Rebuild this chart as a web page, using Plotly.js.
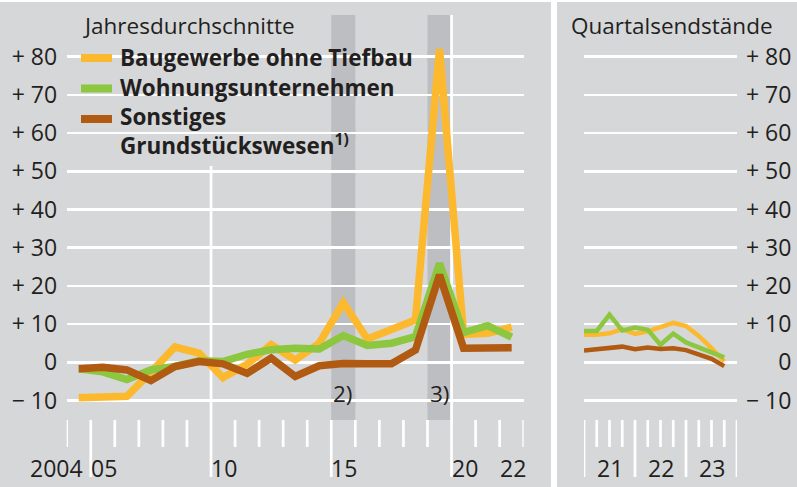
<!DOCTYPE html>
<html><head><meta charset="utf-8">
<script src="https://cdn.plot.ly/plotly-3.0.1.min.js"></script>
<style>html,body{margin:0;padding:0;background:#fff;}#chart{width:797px;height:487px;}</style>
</head><body><div id="chart"></div>
<script>
// ---------- data ----------
const years = [2004,2005,2006,2007,2008,2009,2010,2011,2012,2013,2014,2015,2016,2017,2018,2019,2020,2021,2022];
const baugewerbeAnnual = [-9.3,-8.9,-8.9,-2.6,4.0,2.4,-4.0,-0.5,4.6,0.6,5.0,15.6,6.1,8.6,11.1,82.0,7.3,7.6,9.2];
const wohnungAnnual    = [-1.7,-2.5,-4.5,-2.0,-1.1,0.4,0.2,2.1,3.3,3.7,3.5,7.0,4.4,5.0,6.7,25.9,7.8,9.6,6.6];
const sonstigesAnnual  = [-1.7,-1.3,-2.0,-4.8,-1.1,0.2,-0.4,-2.9,1.1,-3.7,-0.9,-0.3,-0.4,-0.4,3.2,22.9,3.7,3.8,3.8];

// quarter-end positions (2020 Q4 ... 2023 Q3) as decimal years
const quarterEnds = [2021.00,2021.25,2021.50,2021.75,2022.00,2022.25,2022.50,2022.75,2023.00,2023.25,2023.50,2023.75];
const baugewerbeQuarterly = [7.2,7.2,7.6,8.7,7.4,8.1,9.2,10.3,9.5,6.9,3.7,0.2];
const wohnungQuarterly    = [8.2,8.2,12.5,8.3,9.1,8.5,4.6,7.5,5.2,3.9,2.6,1.3];
const sonstigesQuarterly  = [3.1,3.5,3.9,4.1,3.4,3.9,3.5,3.7,3.2,2.1,0.9,-1.0];

const seriesNames = ['Baugewerbe ohne Tiefbau','Wohnungsunternehmen','Sonstiges<br>Grundstückswesen<sup>1)</sup>'];
const yTickVals = [-10,0,10,20,30,40,50,60,70,80];
const yTickText = ['− 10','0','+ 10','+ 20','+ 30','+ 40','+ 50','+ 60','+ 70','+ 80'];
const annualLabels = [{x:2004.5,t:'2004',a:'right'},{x:2004.5,t:'05',a:'left'},{x:2009.5,t:'10',a:'left'},{x:2014.5,t:'15',a:'left'},{x:2019.5,t:'20',a:'left'},{x:2021.5,t:'22',a:'left'}];
const quarterLabels = [{x:2021.5,t:'21'},{x:2022.5,t:'22'},{x:2023.5,t:'23'}];
const footnoteBands = [{x0:2014.5,x1:2015.5,t:'2)'},{x0:2018.5,x1:2019.5,t:'3)'}];

// ---------- styling / geometry ----------
const W=797,H=487;
const BG='#d6d7d9', BAND='#bdbec2', TXT='#231f20';
const COLORS=['#fdb92e','#8dc63f','#b05a12'];
const FONT='Open Sans';
const FS=22.5, TFS=23;
const Z0=362.3, S=3.82;            // pixel row of y=0, pixels per unit
const yv = p => (Z0-p)/S;          // pixel row -> y value
const PX = x => x/W, PY = y => 1-y/H;
const LX0=66.7, LX1=523.7, RX0=584, RX1=737;
const TOP=15, BOT=477;
const xl = yr => LX0+(yr-2003.5)*(LX1-LX0)/19; // left x value -> pixel (for masks only)

const traces=[];
[baugewerbeAnnual,wohnungAnnual,sonstigesAnnual].forEach((v,i)=>{
  traces.push({x:years,y:v,type:'scatter',mode:'lines',name:seriesNames[i],
    line:{color:COLORS[i],width:7.5},xaxis:'x',yaxis:'y',hoverinfo:'skip',showlegend:false});
});
[baugewerbeQuarterly,wohnungQuarterly,sonstigesQuarterly].forEach((v,i)=>{
  traces.push({x:quarterEnds,y:v,type:'scatter',mode:'lines',name:seriesNames[i],
    line:{color:COLORS[i],width:4.5},xaxis:'x2',yaxis:'y2',hoverinfo:'skip',showlegend:false});
});

const shapes=[];
const prect=(x0,x1,y0,y1,fill,layer)=>shapes.push({type:'rect',xref:'paper',yref:'paper',x0:PX(x0),x1:PX(x1),y0:PY(y1),y1:PY(y0),fillcolor:fill,line:{width:0},layer:layer});
// panel backgrounds
prect(0,551,2,H,BG,'below');
prect(557,W,2,H,BG,'below');
// footnote bands (below gridlines)
footnoteBands.forEach(b=>shapes.push({type:'rect',xref:'x',yref:'y',x0:b.x0,x1:b.x1,y0:yv(420),y1:yv(TOP),fillcolor:BAND,line:{width:0},layer:'below'}));
// masks hiding gridlines behind legend text and band labels
const masks=[[71,432,51,62],[71,409,89,101],[71,360,127,140],[325,362,394,407],[422,454,394,407]];
masks.forEach(m=>{
  prect(m[0],m[1],m[2],m[3],BG,'between');
  footnoteBands.forEach(b=>{
    const a=Math.max(m[0],xl(b.x0)), c=Math.min(m[1],xl(b.x1));
    if(c>a) prect(a,c,m[2],m[3],BAND,'between');
  });
});
// vertical white lines
const vline=(xref,x,y0,y1,w)=>shapes.push({type:'line',xref:xref,yref:'y',x0:x,x1:x,y0:yv(y0),y1:yv(y1),line:{color:'#ffffff',width:w},layer:'between'});
vline('x',2009.5,166,BOT,2.7);
vline('x',2019.5,TOP,BOT,2.7);
// tick marks left
for(let k=0;k<=19;k++){
  const xb=2003.5+k;
  if(xb===2009.5||xb===2019.5) continue;
  const long=(xb===2004.5||xb===2014.5);
  vline('x',xb,420,long?BOT:447,2.7);
}
// tick marks right
for(let k=0;k<=12;k++){
  const xb=2021+k*0.25;
  const long=(k%4===0);
  shapes.push({type:'line',xref:'x2',yref:'y2',x0:xb,x1:xb,y0:yv(420),y1:yv(long?BOT:447),line:{color:'#ffffff',width:2.7},layer:'between'});
}
// legend keys
[58,88.5,119].forEach((yc,i)=>prect(81,112,yc-4,yc+4,COLORS[i],'above'));

const ann=[];
const pann=(x,y,t,opts)=>ann.push(Object.assign({xref:'paper',yref:'paper',x:PX(x),y:PY(y),text:t,showarrow:false,xanchor:'left',yanchor:'middle',font:{family:FONT,size:FS,color:TXT}},opts||{}));
pann(81,25,'Jahresdurchschnitte');
pann(569,25,'Quartalsendstände');
const LF={family:FONT,size:FS,color:TXT,weight:700};
pann(118,57,seriesNames[0],{font:LF});
pann(118,87.5,seriesNames[1],{font:LF});
pann(118,131,seriesNames[2],{align:'left',font:LF});
footnoteBands.forEach(b=>ann.push({xref:'x',yref:'y',x:(b.x0+b.x1)/2,y:yv(393),text:b.t,showarrow:false,xanchor:'center',yanchor:'middle',font:{family:FONT,size:FS,color:TXT}}));
annualLabels.forEach(l=>ann.push({xref:'x',yref:'y',x:l.x,y:yv(468),text:l.t,showarrow:false,xanchor:l.a,yanchor:'middle',xshift:l.a==='right'?-6:-2,font:{family:FONT,size:TFS,color:TXT}}));
quarterLabels.forEach(l=>ann.push({xref:'x2',yref:'y2',x:l.x,y:yv(468),text:l.t,showarrow:false,xanchor:'center',yanchor:'middle',font:{family:FONT,size:TFS,color:TXT}}));

const yCommon={range:[yv(BOT),yv(TOP)],domain:[PY(BOT),PY(TOP)],tickvals:yTickVals,ticktext:yTickText,
  showgrid:true,gridcolor:'#ffffff',gridwidth:2.7,zeroline:false,showline:false,ticks:'outside',tickcolor:'rgba(0,0,0,0)',
  tickfont:{family:FONT,size:TFS,color:TXT},fixedrange:true};

const layout={
  width:W,height:H,margin:{l:0,r:0,t:0,b:0},paper_bgcolor:'#ffffff',plot_bgcolor:'rgba(0,0,0,0)',
  showlegend:false,
  xaxis:{domain:[PX(LX0),PX(LX1)],range:[2003.5,2022.5],visible:false,fixedrange:true,anchor:'y'},
  yaxis:Object.assign({},yCommon,{anchor:'x',side:'left',ticklen:4}),
  xaxis2:{domain:[PX(RX0),PX(RX1)],range:[2021,2024],visible:false,fixedrange:true,anchor:'y2'},
  yaxis2:Object.assign({},yCommon,{anchor:'free',position:1,side:'left',ticklen:1}),
  shapes:shapes,annotations:ann
};
Plotly.newPlot('chart',traces,layout,{displayModeBar:false,staticPlot:true});
</script></body></html>
